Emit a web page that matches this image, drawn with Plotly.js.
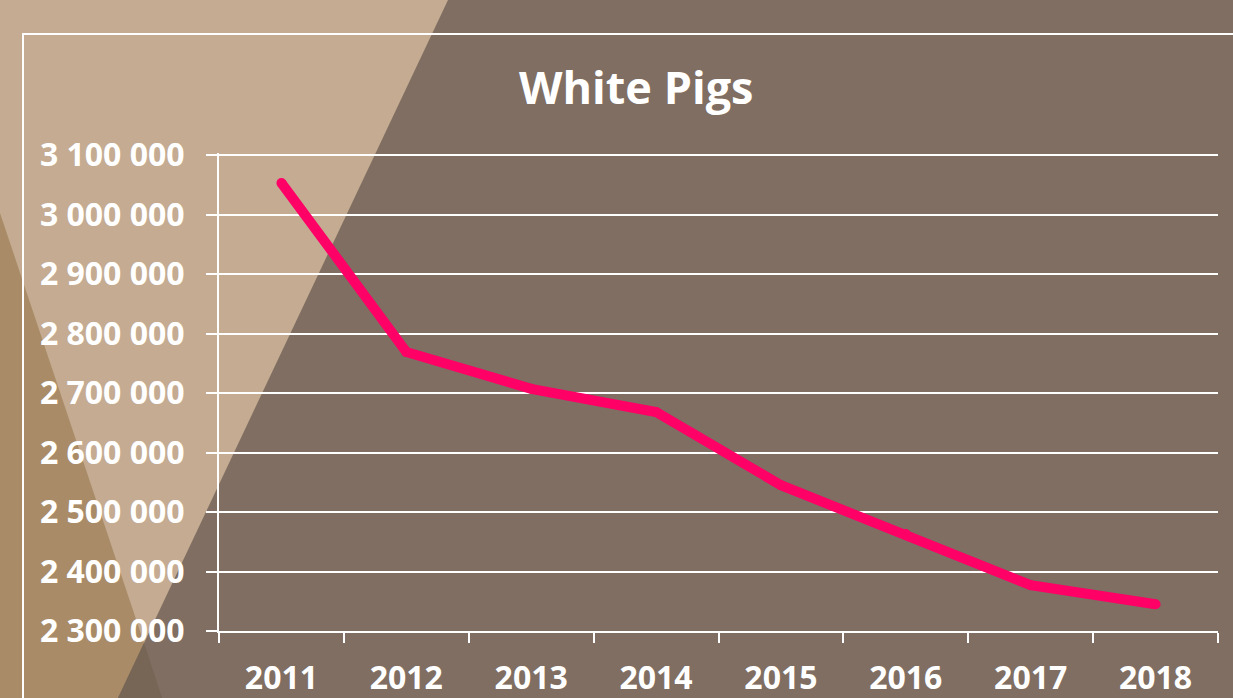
<!DOCTYPE html>
<html>
<head>
<meta charset="utf-8">
<script src="https://cdn.plot.ly/plotly-3.0.1.min.js"></script>
<style>
  html, body { margin: 0; padding: 0; }
  body { width: 1233px; height: 698px; overflow: hidden; position: relative; background: #7f6e61; }
  .bg { position: absolute; left: 0; top: 0; width: 1233px; height: 698px; }
  #beige { background: #c4ab91; clip-path: polygon(0 0, 448px 0, 144px 643px, 0 643px); }
  #tan { background: #a98c67; clip-path: polygon(0 213px, 144px 643px, 118px 698px, 0 698px); }
  #shade { background: #776555; clip-path: polygon(144px 643px, 162px 698px, 118px 698px); }
  #frame { position: absolute; left: 22px; top: 33px; width: 1300px; height: 800px; border: 2px solid #ffffff; box-sizing: border-box; }
  #plot { position: absolute; left: 0; top: 0; width: 1233px; height: 698px; }
</style>
</head>
<body>
<div class="bg" id="beige"></div>
<div class="bg" id="tan"></div>
<div class="bg" id="shade"></div>
<div id="frame"></div>
<div id="plot"></div>
<script>
// White Pigs per year
let years = ['2011', '2012', '2013', '2014', '2015', '2016', '2017', '2018'];
let whitePigs = [3053000, 2769000, 2707000, 2668000, 2545000, 2463000, 2377000, 2345000];

let title = 'White Pigs';
let labelFont = { family: 'Open Sans', size: 32, color: '#ffffff', weight: 700 };

let trace = {
  x: years,
  y: whitePigs,
  name: 'White Pigs',
  type: 'scatter',
  mode: 'lines+markers',
  line: { color: '#ff0066', width: 10 },
  marker: { color: '#ff0066', size: 10 },
  hoverinfo: 'x+y'
};

// a little headroom above 3 100 000 so the top grid line is drawn
let yTop = 3100000 + 2 * 800000 / 476;

let layout = {
  width: 1233,
  height: 698,
  margin: { l: 219, r: 15, t: 153, b: 67, pad: 0 },
  paper_bgcolor: 'rgba(0,0,0,0)',
  plot_bgcolor: 'rgba(0,0,0,0)',
  separators: '. ',
  showlegend: false,
  title: {
    text: title,
    font: { family: 'Open Sans', size: 45, color: '#ffffff', weight: 700 },
    x: 0.516,
    xanchor: 'center',
    yref: 'container',
    y: 1 - 88 / 698,
    yanchor: 'middle'
  },
  xaxis: {
    type: 'category',
    range: [-0.5, years.length - 0.5],
    automargin: false,
    tickson: 'boundaries',
    ticks: 'outside',
    ticklen: 10,
    tickwidth: 2,
    tickcolor: '#ffffff',
    showline: true,
    linecolor: '#ffffff',
    linewidth: 2,
    showgrid: false,
    tickfont: labelFont,
    ticklabelstandoff: 18
  },
  yaxis: {
    range: [2300000, yTop],
    tick0: 2300000,
    dtick: 100000,
    tickformat: ',d',
    automargin: false,
    ticks: 'outside',
    ticklen: 11,
    tickwidth: 2,
    tickcolor: '#ffffff',
    showline: true,
    linecolor: '#ffffff',
    linewidth: 2,
    gridcolor: '#ffffff',
    gridwidth: 2,
    zeroline: false,
    tickfont: labelFont,
    ticklabelstandoff: 15
  }
};

Plotly.newPlot('plot', [trace], layout, { displayModeBar: false });
</script>
</body>
</html>
